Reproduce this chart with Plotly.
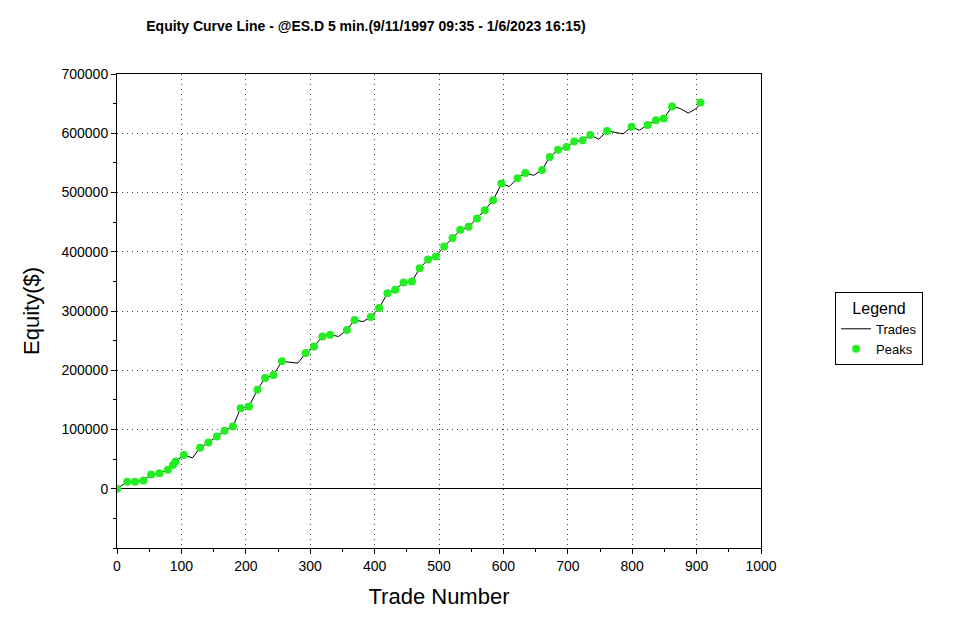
import numpy as np
import plotly.graph_objects as go

# equity at selected trade numbers
trades = [0, 16, 28, 41, 53, 66, 79, 87, 91, 104, 117, 129, 142, 155, 167, 180, 192,
          205, 218, 230, 243, 256, 268, 281, 293, 306, 319, 331, 344, 357, 369,
          382, 394, 407, 420, 432, 445, 458, 470, 483, 495, 508, 521, 533, 546,
          559, 571, 584, 597, 609, 622, 634, 647, 660, 672, 685, 698, 710, 723,
          735, 748, 761, 773, 786, 799, 811, 824, 837, 849, 862, 874, 887, 900, 906]
equity = [0, 12000, 12000, 14000, 24000, 26000, 32000, 40000, 46000, 57000, 52000, 69000,
          78000, 88000, 98000, 105000, 136000, 139000, 167000, 187000, 192000, 215000,
          213000, 212000, 229000, 240000, 257000, 260000, 257000, 268000, 285000,
          282000, 290000, 305000, 330000, 336000, 348000, 350000, 372000, 387000,
          392000, 409000, 423000, 437000, 442000, 456000, 470000, 487000, 515000,
          510000, 524000, 533000, 529000, 538000, 560000, 572000, 577000, 586000,
          588000, 597000, 590000, 604000, 602000, 599000, 611000, 605000, 614000,
          622000, 625000, 645000, 642000, 634000, 642000, 652000]

eq = np.array(equity)
peak_mask = eq >= np.maximum.accumulate(eq)
peak_x = np.array(trades)[peak_mask]
peak_y = eq[peak_mask]

fig = go.Figure()
fig.add_trace(go.Scatter(x=trades, y=equity, mode='lines', name='Trades',
                         line=dict(color='black', width=1)))
fig.add_trace(go.Scatter(x=peak_x, y=peak_y, mode='markers', name='Peaks',
                         marker=dict(color='#22ee22', size=8)))

axis_common = dict(showline=True, linecolor='black', mirror=True, ticks='outside',
                   tickcolor='black', gridcolor='#444', griddash='1px,4px', gridwidth=1,
                   automargin=False,
                   tickfont=dict(family='Arial', size=14, color='black'))
fig.update_xaxes(range=[0, 1000], dtick=100, zeroline=False,
                 minor=dict(dtick=50, ticks='outside', tickcolor='black', showgrid=False),
                 title=dict(text='Trade Number', font=dict(family='Arial', size=22, color='black')),
                 **axis_common)
fig.update_yaxes(range=[-100000, 700000], tickvals=[i * 100000 for i in range(8)],
                 tickformat='d',
                 zeroline=True, zerolinecolor='black', zerolinewidth=1,
                 minor=dict(dtick=50000, ticks='outside', tickcolor='black', showgrid=False),
                 title=dict(text='Equity($)', font=dict(family='Arial', size=22, color='black')),
                 **axis_common)

fig.update_layout(
    width=967, height=639,
    plot_bgcolor='white', paper_bgcolor='white',
    margin=dict(l=109, r=214, t=66, b=99),
    title=dict(text='<b>Equity Curve Line - @ES.D 5 min.(9/11/1997 09:35 - 1/6/2023 16:15)</b>',
               font=dict(family='Arial', size=14, color='black'), x=0.143, xanchor='left', y=0.98),
    legend=dict(x=1.115, y=0.54, xanchor='left', yanchor='top', bordercolor='black', borderwidth=1,
                title=dict(text='Legend', side='top center'),
                font=dict(family='Arial', size=13, color='black')),
)

fig.write_html("out.html")
